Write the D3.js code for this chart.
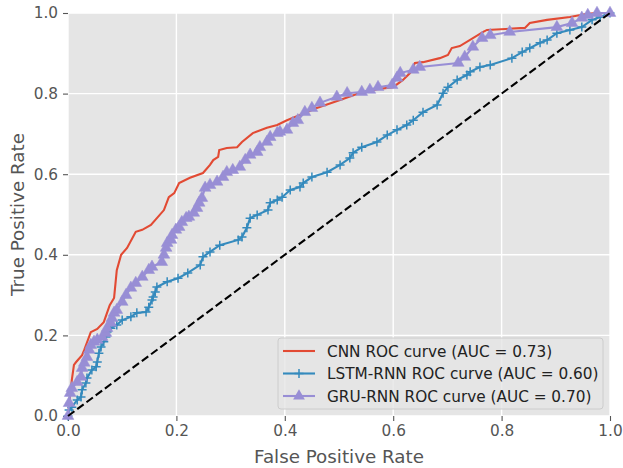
<!DOCTYPE html>
<html>
<head>
<meta charset="utf-8">
<script src="https://d3js.org/d3.v7.min.js"></script>
<style>
  body { margin: 0; background: #fff; }
  text { font-family: "DejaVu Sans", sans-serif; }
</style>
</head>
<body>
<svg id="chart" width="623" height="468"></svg>
<script>
  // ROC points: [false positive rate, true positive rate]
  var cnnRoc = [[0,0],[0.002,0.027],[0.004,0.052],[0.007,0.089],[0.011,0.127],[0.015,0.134],
    [0.026,0.151],[0.030,0.164],[0.042,0.208],[0.054,0.216],[0.066,0.233],[0.077,0.275],
    [0.085,0.293],[0.090,0.362],[0.098,0.40],[0.109,0.417],[0.125,0.457],[0.137,0.462],
    [0.153,0.474],[0.164,0.491],[0.177,0.511],[0.186,0.543],[0.196,0.553],[0.205,0.578],
    [0.225,0.591],[0.249,0.603],[0.262,0.623],[0.268,0.635],[0.277,0.643],[0.279,0.660],
    [0.293,0.665],[0.312,0.667],[0.321,0.680],[0.341,0.702],[0.367,0.715],[0.386,0.722],
    [0.404,0.734],[0.428,0.747],[0.459,0.764],[0.502,0.784],[0.533,0.799],[0.570,0.811],
    [0.600,0.816],[0.618,0.834],[0.631,0.851],[0.640,0.876],[0.655,0.878],[0.686,0.888],
    [0.701,0.896],[0.708,0.913],[0.723,0.918],[0.766,0.953],[0.773,0.958],[0.843,0.963],
    [0.852,0.975],[0.884,0.983],[0.926,0.990],[0.958,0.998],[0.976,1.0],[1,1]];

  var lstmRoc = [[0,0],[0.002,0.015],[0.007,0.022],[0.017,0.040],[0.024,0.047],[0.026,0.065],
    [0.033,0.082],[0.035,0.094],[0.044,0.114],[0.052,0.122],[0.054,0.134],[0.057,0.156],
    [0.061,0.171],[0.066,0.184],[0.070,0.196],[0.079,0.218],[0.090,0.226],[0.100,0.238],
    [0.116,0.246],[0.127,0.256],[0.144,0.258],[0.149,0.270],[0.155,0.288],[0.157,0.295],
    [0.161,0.308],[0.164,0.320],[0.183,0.333],[0.203,0.342],[0.221,0.355],[0.244,0.375],
    [0.249,0.395],[0.262,0.407],[0.280,0.424],[0.314,0.437],[0.321,0.444],[0.330,0.467],
    [0.336,0.491],[0.349,0.499],[0.369,0.511],[0.373,0.529],[0.386,0.536],[0.395,0.543],
    [0.410,0.561],[0.428,0.568],[0.434,0.578],[0.450,0.593],[0.478,0.605],[0.502,0.623],
    [0.520,0.640],[0.526,0.653],[0.542,0.667],[0.570,0.680],[0.589,0.697],[0.607,0.710],
    [0.625,0.722],[0.637,0.734],[0.655,0.754],[0.681,0.772],[0.692,0.801],[0.701,0.816],
    [0.718,0.834],[0.736,0.846],[0.742,0.854],[0.760,0.866],[0.779,0.871],[0.819,0.888],
    [0.838,0.903],[0.852,0.913],[0.871,0.926],[0.884,0.933],[0.902,0.950],[0.926,0.958],
    [0.948,0.965],[0.967,0.983],[0.982,0.990],[1,1]];

  var gruRoc = [[0,0],[0.002,0.032],[0.004,0.057],[0.007,0.069],[0.017,0.084],[0.024,0.097],
    [0.026,0.119],[0.030,0.132],[0.035,0.146],[0.039,0.164],[0.042,0.176],[0.048,0.184],
    [0.054,0.189],[0.063,0.196],[0.070,0.206],[0.072,0.218],[0.079,0.231],[0.081,0.243],
    [0.085,0.256],[0.090,0.263],[0.100,0.283],[0.107,0.300],[0.116,0.318],[0.125,0.330],
    [0.137,0.345],[0.149,0.362],[0.155,0.370],[0.173,0.382],[0.177,0.400],[0.181,0.417],
    [0.183,0.429],[0.190,0.437],[0.192,0.449],[0.199,0.462],[0.205,0.469],[0.210,0.481],
    [0.218,0.491],[0.223,0.494],[0.232,0.504],[0.238,0.516],[0.242,0.529],[0.247,0.541],
    [0.253,0.566],[0.262,0.573],[0.275,0.581],[0.286,0.593],[0.293,0.605],[0.304,0.610],
    [0.317,0.618],[0.327,0.635],[0.336,0.648],[0.349,0.655],[0.354,0.667],[0.367,0.680],
    [0.373,0.692],[0.386,0.702],[0.391,0.705],[0.404,0.710],[0.415,0.727],[0.424,0.734],
    [0.437,0.754],[0.450,0.764],[0.465,0.777],[0.496,0.792],[0.515,0.801],[0.542,0.804],
    [0.557,0.809],[0.572,0.816],[0.598,0.821],[0.607,0.839],[0.613,0.851],[0.637,0.859],
    [0.649,0.866],[0.720,0.876],[0.732,0.891],[0.747,0.916],[0.764,0.938],[0.779,0.945],
    [0.815,0.953],[0.902,0.965],[0.930,0.975],[0.948,0.988],[0.959,0.995],[0.976,1.0],[1,1]];

  var chanceLine = [[0,0],[1,1]];
  var tickValues = [0, 0.2, 0.4, 0.6, 0.8, 1.0];
  var seriesNames = ["CNN ROC curve (AUC = 0.73)", "LSTM-RNN ROC curve (AUC = 0.60)", "GRU-RNN ROC curve (AUC = 0.70)"];

  var margin = {left: 68, top: 13, right: 13, bottom: 52};
  var width = 623 - margin.left - margin.right;
  var height = 468 - margin.top - margin.bottom;

  var svg = d3.select("#chart");
  var g = svg.append("g").attr("transform", "translate(" + margin.left + "," + margin.top + ")");

  var x = d3.scaleLinear().domain([0, 1]).range([0, width]);
  var y = d3.scaleLinear().domain([0, 1]).range([height, 0]);

  // grey panel + white grid (ggplot style)
  g.append("rect").attr("width", width).attr("height", height).attr("fill", "#e5e5e5");
  g.selectAll(".gx").data(tickValues).enter().append("line")
    .attr("x1", d => x(d)).attr("x2", d => x(d)).attr("y1", 0).attr("y2", height)
    .attr("stroke", "#fff").attr("stroke-width", 1.4);
  g.selectAll(".gy").data(tickValues).enter().append("line")
    .attr("y1", d => y(d)).attr("y2", d => y(d)).attr("x1", 0).attr("x2", width)
    .attr("stroke", "#fff").attr("stroke-width", 1.4);

  var xAxis = g.append("g").attr("transform", "translate(0," + height + ")")
    .call(d3.axisBottom(x).tickValues(tickValues).tickFormat(d3.format(".1f")).tickSize(5).tickPadding(4));
  var yAxis = g.append("g")
    .call(d3.axisLeft(y).tickValues(tickValues).tickFormat(d3.format(".1f")).tickSize(5).tickPadding(5));
  [xAxis, yAxis].forEach(function(a) {
    a.select(".domain").remove();
    a.selectAll("line").attr("stroke", "#555").attr("stroke-width", 1.1);
    a.selectAll("text").attr("fill", "#555").style("font-size", "15.3px").style("font-family", "DejaVu Sans");
  });

  var line = d3.line().x(d => x(d[0])).y(d => y(d[1]));
  var marks = g.append("g");

  // CNN
  marks.append("path").datum(cnnRoc).attr("d", line)
    .attr("fill", "none").attr("stroke", "#E24A33").attr("stroke-width", 2.1);

  // LSTM with + markers
  marks.append("path").datum(lstmRoc).attr("d", line)
    .attr("fill", "none").attr("stroke", "#348ABD").attr("stroke-width", 2.1);
  marks.selectAll(".plus").data(lstmRoc).enter().append("path")
    .attr("transform", d => "translate(" + x(d[0]) + "," + y(d[1]) + ")")
    .attr("d", "M-4.5,0H4.5M0,-4.5V4.5").attr("stroke", "#348ABD").attr("stroke-width", 1.5);

  // GRU with triangle markers
  marks.append("path").datum(gruRoc).attr("d", line)
    .attr("fill", "none").attr("stroke", "#988ED5").attr("stroke-width", 2.1);
  marks.selectAll(".tri").data(gruRoc).enter().append("path")
    .attr("transform", d => "translate(" + x(d[0]) + "," + y(d[1]) + ")")
    .attr("d", d3.symbol().type(d3.symbolTriangle).size(60))
    .attr("fill", "#988ED5").attr("stroke", "#988ED5").attr("stroke-width", 0.5);

  // chance diagonal
  g.append("path").datum(chanceLine).attr("d", line)
    .attr("fill", "none").attr("stroke", "#000").attr("stroke-width", 2.1)
    .attr("stroke-dasharray", "8,3.5");

  // axis labels
  svg.append("text").attr("x", margin.left + width / 2).attr("y", 463)
    .attr("text-anchor", "middle").attr("fill", "#555").style("font-size", "18.3px")
    .text("False Positive Rate");
  svg.append("text").attr("transform", "translate(24," + (margin.top + height / 2) + ") rotate(-90)")
    .attr("text-anchor", "middle").attr("fill", "#555").style("font-size", "18.3px")
    .text("True Positive Rate");

  // legend
  var lg = svg.append("g").attr("transform", "translate(278,338)");
  lg.append("rect").attr("width", 325).attr("height", 71).attr("rx", 3)
    .attr("fill", "#e5e5e5").attr("fill-opacity", 0.8).attr("stroke", "#ccc").attr("stroke-width", 1);
  var colors = ["#E24A33", "#348ABD", "#988ED5"];
  seriesNames.forEach(function(name, i) {
    var ly = 13 + i * 22.5;
    lg.append("line").attr("x1", 5).attr("x2", 37).attr("y1", ly).attr("y2", ly)
      .attr("stroke", colors[i]).attr("stroke-width", 2.1);
    if (i === 1) {
      lg.append("path").attr("transform", "translate(21," + ly + ")")
        .attr("d", "M-4.5,0H4.5M0,-4.5V4.5").attr("stroke", colors[i]).attr("stroke-width", 1.5);
    }
    if (i === 2) {
      lg.append("path").attr("transform", "translate(21," + ly + ")")
        .attr("d", d3.symbol().type(d3.symbolTriangle).size(60)).attr("fill", colors[i]);
    }
    lg.append("text").attr("x", 49).attr("y", ly + 5.5).attr("fill", "#222")
      .style("font-size", "15.3px").text(name);
  });
</script>
</body>
</html>
